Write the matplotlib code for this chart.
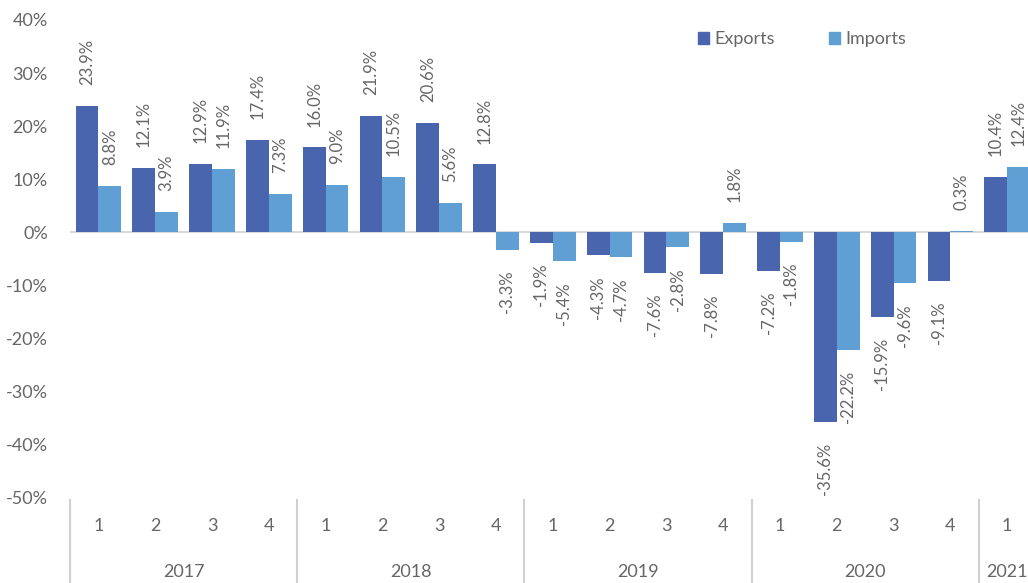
import matplotlib.pyplot as plt
import matplotlib.transforms as mtransforms
from matplotlib.patches import Patch
import numpy as np

plt.rcParams['font.family'] = ['Lato', 'DejaVu Sans']

years = ['2017', '2018', '2019', '2020', '2021']
quarters_per_year = [4, 4, 4, 4, 1]
exports = [23.9, 12.1, 12.9, 17.4, 16.0, 21.9, 20.6, 12.8, -1.9, -4.3, -7.6, -7.8,
           -7.2, -35.6, -15.9, -9.1, 10.4]
imports = [8.8, 3.9, 11.9, 7.3, 9.0, 10.5, 5.6, -3.3, -5.4, -4.7, -2.8, 1.8,
           -1.8, -22.2, -9.6, 0.3, 12.4]

c_exp = '#4865ad'
c_imp = '#5f9fd3'
txt = '#666666'

fig = plt.figure(figsize=(10.28, 5.83), dpi=100)
ax = fig.add_axes([70 / 1028, 1 - 498 / 583, 1 - 70 / 1028, 478 / 583])

n = len(exports)
x = np.arange(n) + 0.5
w = 0.4
b1 = ax.bar(x - w / 2, exports, w, color=c_exp, zorder=2)
b2 = ax.bar(x + w / 2, imports, w, color=c_imp, zorder=2)

for bars, vals in [(b1, exports), (b2, imports)]:
    for r, v in zip(bars, vals):
        cx = r.get_x() + r.get_width() / 2
        off = 15 if v >= 0 else -15
        ax.annotate(f'{v:.1f}%', (cx, v), xytext=(0, off), textcoords='offset points',
                    rotation=90, ha='center', va='bottom' if v >= 0 else 'top',
                    fontsize=12, color=txt, annotation_clip=False)

ax.axhline(0, color='#d9d9d9', lw=1.5, zorder=1)
ax.set_xlim(0, (1028 - 70) / 56.8)
ax.set_ylim(-50, 40)
ax.set_yticks(range(-50, 41, 10))
ax.set_yticklabels([f'{t}%' for t in range(-50, 41, 10)])
ax.tick_params(axis='y', length=0, pad=16, labelsize=13, labelcolor=txt)
ax.set_xticks([])
for s in ax.spines.values():
    s.set_visible(False)

# two-level category axis
trans = mtransforms.blended_transform_factory(ax.transData, ax.transAxes)
start = 0
for yr, nq in zip(years, quarters_per_year):
    ax.plot([start, start], [-0.004, -0.18], color='#d0d0d0', lw=1.5,
            transform=trans, clip_on=False)
    for q in range(nq):
        ax.text(start + q + 0.5, -0.058, str(q + 1), transform=trans, ha='center',
                va='center', fontsize=13, color=txt)
    ax.text(start + nq / 2, -0.155, yr, transform=trans, ha='center', va='center',
            fontsize=13, color=txt)
    start += nq

handles = [Patch(color=c_exp, label='Exports'), Patch(color=c_imp, label='Imports')]
fig.legend(handles=handles, loc='upper left', bbox_to_anchor=(682 / 1028, 1 - 15 / 583),
           ncol=2, frameon=False, fontsize=13, handlelength=0.6, handleheight=0.6,
           handletextpad=0.3, columnspacing=3.0, labelcolor=txt)

fig.savefig('out.png', dpi=100)
